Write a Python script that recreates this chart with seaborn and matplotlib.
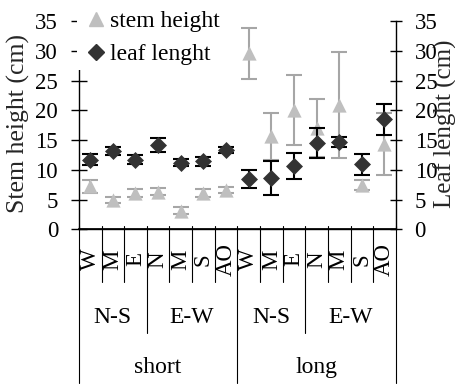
import numpy as np
import pandas as pd
import matplotlib
matplotlib.use("Agg")
import matplotlib.pyplot as plt
import seaborn as sns
from matplotlib.lines import Line2D
from matplotlib.transforms import blended_transform_factory

# category hierarchy (innermost first)
orientation = ["W", "M", "E", "N", "M", "S", "AO", "W", "M", "E", "N", "M", "S", "AO"]
direction = ["N-S"] * 3 + ["E-W"] * 4 + ["N-S"] * 3 + ["E-W"] * 4
length = ["short"] * 7 + ["long"] * 7

stem_mean = [7.2, 4.9, 6.1, 6.3, 3.1, 6.1, 6.6, 29.6, 15.6, 20.0, 17.0, 20.9, 7.4, 14.3]
stem_err = [1.1, 0.5, 0.6, 0.6, 0.6, 0.7, 0.5, 4.3, 4.0, 5.9, 4.9, 8.9, 0.8, 5.2]
leaf_mean = [11.7, 13.2, 11.7, 14.2, 11.2, 11.4, 13.3, 8.5, 8.6, 10.7, 14.5, 14.7, 10.9, 18.5]
leaf_err = [0.9, 0.7, 0.8, 1.2, 0.6, 0.7, 0.5, 1.5, 2.9, 2.2, 2.5, 0.85, 1.8, 2.6]

sns.set_theme(style="ticks")
plt.rcParams["font.family"] = "serif"
plt.rcParams["font.serif"] = ["Liberation Serif", "DejaVu Serif"]
plt.rcParams["axes.edgecolor"] = "black"
plt.rcParams["text.color"] = "black"
plt.rcParams["ytick.color"] = "black"

df = pd.DataFrame({
    "pos": np.arange(len(orientation)),
    "stem": stem_mean,
    "stem_err": stem_err,
    "leaf": leaf_mean,
    "leaf_err": leaf_err,
})

stem_color = "#bfbfbf"
stem_bar = "#a6a6a6"
leaf_color = "#333333"

fig = plt.figure(figsize=(4.56, 3.84), dpi=100)
ax = fig.add_axes([0.173, 0.403, 0.695, 0.542])
ax2 = ax.twinx()

ax.errorbar(df["pos"], df["stem"], yerr=df["stem_err"], fmt="none", ecolor=stem_bar,
            elinewidth=1.5, capsize=5.5, capthick=1.5, zorder=2)
sns.scatterplot(data=df, x="pos", y="stem", marker="^", s=105, color=stem_color,
                edgecolor=stem_color, linewidth=0, ax=ax, zorder=3)

ax2.errorbar(df["pos"], df["leaf"], yerr=df["leaf_err"], fmt="none", ecolor="black",
             elinewidth=1.5, capsize=5.5, capthick=1.5, zorder=2)
sns.scatterplot(data=df, x="pos", y="leaf", marker="D", s=75, color=leaf_color,
                edgecolor=leaf_color, linewidth=0, ax=ax2, zorder=3)

for a in (ax, ax2):
    a.set_xlim(-0.5, len(orientation) - 0.5)
    a.set_ylim(0, 35)
    a.set_yticks(range(0, 36, 5))
    a.set_xticks([])
    a.set_xlabel("")
    a.spines["top"].set_visible(False)

ax.spines["right"].set_visible(False)
ax2.spines["left"].set_visible(False)
for s in ("left", "bottom"):
    ax.spines[s].set_linewidth(1)
ax2.spines["right"].set_linewidth(1)

ax.tick_params(axis="y", direction="inout", length=12, width=1, pad=9, labelsize=16.5)
ax2.tick_params(axis="y", direction="inout", length=9, width=1, pad=9, labelsize=16.5)

ax.set_ylabel("Stem height (cm)", fontsize=18.5)
ax2.set_ylabel("Leaf lenght (cm)", fontsize=18, rotation=90)
ax.yaxis.set_label_coords(-0.19, 0.51)
ax2.yaxis.set_label_coords(1.155, 0.505)
ax.yaxis.label.set_va("center")
ax2.yaxis.label.set_va("center")

# hierarchical category axis
trans = blended_transform_factory(ax.transData, ax.transAxes)
line_kw = dict(color="black", lw=0.8, clip_on=False, transform=trans)
lvl = [-0.252, -0.497, -0.74]

n = len(orientation)
for i in range(n + 1):
    ax.plot([i - 0.5, i - 0.5], [0.015, lvl[0]], **line_kw)
for i, lab in enumerate(orientation):
    ax.text(i, -0.145, lab, rotation=90, ha="center", va="center", fontsize=16.5, transform=trans)


def group_spans(keys):
    spans = []
    start = 0
    for i in range(1, len(keys) + 1):
        if i == len(keys) or keys[i] != keys[start]:
            spans.append((start, i, keys[start][-1]))
            start = i
    return spans


dir_spans = group_spans(list(zip(length, direction)))
len_spans = group_spans([(l,) for l in length])

for s, e, lab in dir_spans:
    ax.plot([s - 0.5, s - 0.5], [lvl[0], lvl[1]], **line_kw)
    ax.text((s + e - 1) / 2, -0.426, lab, ha="center", va="center", fontsize=17, transform=trans)
ax.plot([n - 0.5, n - 0.5], [lvl[0], lvl[1]], **line_kw)

for s, e, lab in len_spans:
    ax.plot([s - 0.5, s - 0.5], [lvl[1], lvl[2]], **line_kw)
    ax.text((s + e - 1) / 2, -0.666, lab, ha="center", va="center", fontsize=17, transform=trans)
ax.plot([n - 0.5, n - 0.5], [lvl[1], lvl[2]], **line_kw)

handles = [
    Line2D([], [], marker="^", color=stem_color, linestyle="none", markersize=10.5),
    Line2D([], [], marker="D", color=leaf_color, linestyle="none", markersize=8),
]
leg = ax2.legend(handles, ["stem height", "leaf lenght"], loc="upper left",
                 bbox_to_anchor=(-0.006, 1.072), frameon=True, fontsize=17,
                 handlelength=1.2, handletextpad=0.0, borderpad=0.2,
                 borderaxespad=0, labelspacing=0.48, fancybox=False)
leg.get_frame().set_edgecolor("white")
leg.get_frame().set_facecolor("white")
leg.get_frame().set_alpha(1)
leg.get_frame().set_linewidth(0)

fig.savefig("out.png", dpi=100)
